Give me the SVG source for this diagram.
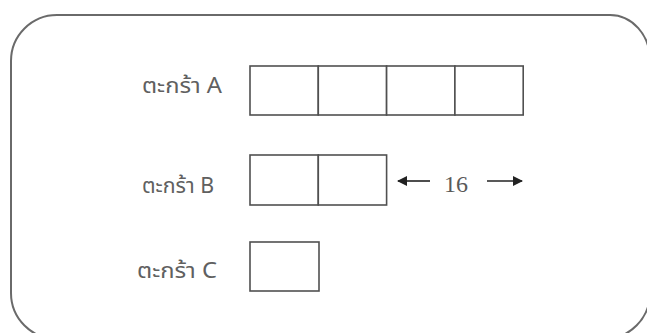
<svg xmlns="http://www.w3.org/2000/svg" width="647" height="333" viewBox="0 0 647 333">
<style>
.cell{fill:#fff;stroke:#505050;stroke-width:1.6}
.lbl{font-family:"Noto Sans Thai","Leelawadee UI",Tahoma,"Noto Sans","DejaVu Sans",sans-serif;font-size:21px;fill:#606060}
.num{font-family:"Liberation Serif","Times New Roman",serif;font-size:24px;fill:#5a5a5a}
.arr{stroke:#222;stroke-width:1.6;fill:none}
</style>
<defs>
<marker id="ah" viewBox="0 0 10 10" refX="9" refY="5" markerWidth="10" markerHeight="10" markerUnits="userSpaceOnUse" orient="auto">
<path d="M0,0 L10,5 L0,10 z" fill="#222"/>
</marker>
</defs>
<rect width="647" height="333" fill="#fff"/>
<path id="frame" d="M57,15 H610 A40,45 0 0 1 650,60 V293 A46,46 0 0 1 604,339 H57 A46,46 0 0 1 11,293 V61 A46,46 0 0 1 57,15 Z" fill="none" stroke="#6a6a6a" stroke-width="2"/>
<g id="basketA">
<text class="lbl" x="142" y="93" textLength="80" lengthAdjust="spacingAndGlyphs">ตะกร้า A</text>
<rect class="cell" x="250" y="66" width="68.3" height="49"/>
<rect class="cell" x="318.3" y="66" width="68.3" height="49"/>
<rect class="cell" x="386.6" y="66" width="68.3" height="49"/>
<rect class="cell" x="454.9" y="66" width="68.3" height="49"/>
</g>
<g id="basketB">
<text class="lbl" x="142" y="193" textLength="72" lengthAdjust="spacingAndGlyphs">ตะกร้า B</text>
<rect class="cell" x="250" y="155" width="68.3" height="50"/>
<rect class="cell" x="318.3" y="155" width="68.3" height="50"/>
</g>
<g id="basketC">
<text class="lbl" x="137" y="278" textLength="80" lengthAdjust="spacingAndGlyphs">ตะกร้า C</text>
<rect class="cell" x="250" y="242" width="69" height="49"/>
</g>
<g id="connectors">
<line class="arr" x1="430" y1="181" x2="398" y2="181" marker-end="url(#ah)"/>
<line class="arr" x1="487" y1="181" x2="522" y2="181" marker-end="url(#ah)"/>
<text class="num" x="456" y="192" text-anchor="middle">16</text>
</g>
</svg>
